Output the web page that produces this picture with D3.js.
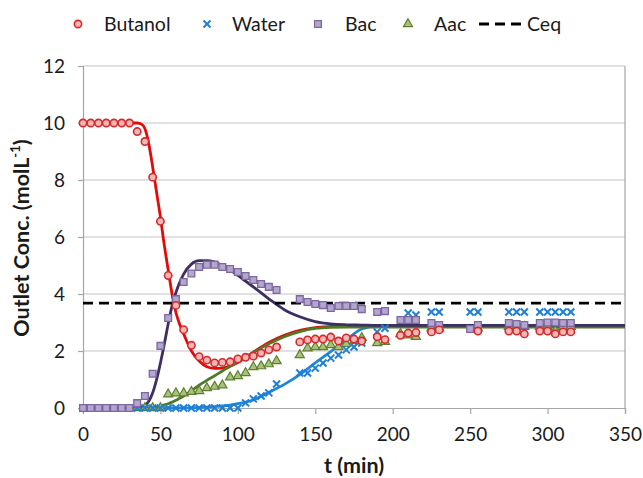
<!DOCTYPE html>
<html>
<head>
<meta charset="utf-8">
<script src="https://cdn.jsdelivr.net/npm/d3@7"></script>
<style>
  html, body { margin: 0; padding: 0; background: #fff; }
  svg { display: block; }
  text { font-family: Lato, "Open Sans", sans-serif; fill: #1a1a1a; }
</style>
</head>
<body>
<svg id="chart" width="643" height="478"></svg>
<script>
// Measured outlet concentrations (mol/L) against time (min)
const butanolTime = [0,5,10,15,20,25,30,35,40,45,50,55,60,65,70,75,80,85,90,95,100,105,110,115,120,125,140,145,150,155,160,165,170,175,180,190,195,205,210,215,225,230,255,275,280,285,295,300,305,310,315];
const butanolConc = [10,10,10,10,10,10,10,9.7,9.35,8.1,6.55,4.65,3.6,2.75,2.2,1.8,1.68,1.58,1.6,1.62,1.72,1.78,1.82,1.93,2.04,2.14,2.32,2.39,2.42,2.42,2.49,2.35,2.46,2.42,2.35,2.5,2.4,2.55,2.63,2.65,2.67,2.74,2.7,2.7,2.7,2.6,2.7,2.7,2.6,2.67,2.67];

const waterTime = [35,40,45,50,55,60,65,70,75,80,85,90,95,100,105,110,115,120,125,140,145,150,155,160,165,170,175,180,190,195,210,215,225,230,250,255,275,280,285,295,300,305,310,315];
const waterConc = [0,0,0,0,0,0,0,0,0,0,0,0,0,0,0.18,0.32,0.42,0.53,0.84,1.23,1.23,1.4,1.58,1.75,1.86,2.04,2.14,2.28,2.67,2.8,3.33,3.26,3.37,3.37,3.37,3.37,3.37,3.37,3.37,3.37,3.37,3.37,3.37,3.37];

const bacTime = [0,5,10,15,20,25,30,35,40,45,50,55,60,65,70,75,80,85,90,95,100,105,110,115,120,125,140,145,150,155,160,165,170,175,180,190,195,205,210,215,225,230,250,255,275,280,285,295,300,305,310,315];
const bacConc = [0,0,0,0,0,0,0,0.17,0.42,1.2,2.18,3.16,3.82,4.42,4.72,4.95,5.03,5.03,4.95,4.88,4.77,4.63,4.49,4.35,4.25,4.14,3.82,3.72,3.65,3.61,3.51,3.58,3.58,3.58,3.47,3.37,3.4,3.09,3.09,3.09,2.98,2.91,2.77,2.91,2.98,2.95,2.91,2.98,3.0,3.0,2.98,2.98];

const aacTime = [35,40,45,50,55,60,65,70,75,80,85,90,95,100,105,110,115,120,125,140,145,150,155,160,165,170,175,180,190,195,205,210,215,225,230,255,275,280,285,295,300,305,310,315];
const aacConc = [0,0,0,0,0.48,0.52,0.52,0.57,0.6,0.7,0.75,0.8,1.08,1.12,1.23,1.44,1.47,1.54,1.65,1.86,2.1,2.14,2.14,2.21,2.14,2.25,2.35,2.46,2.28,2.32,2.6,2.55,2.5,2.8,2.8,2.8,2.85,2.85,2.85,2.85,2.85,2.7,2.85,2.85];

// Model predictions
const fitTime = [0,30,35,38,40,42,44,46,48,50,52,55,58,60,62,65,70,75,80,85,90,95,100,110,120,130,140,150,160,170,180,190,200,350];
const butanolFit = [10,10,10,9.95,9.8,9.4,8.8,8.1,7.4,6.7,5.9,4.85,3.85,3.35,3.0,2.6,2.0,1.65,1.45,1.39,1.4,1.47,1.6,1.96,2.3,2.55,2.72,2.82,2.86,2.88,2.87,2.87,2.87,2.87];
const bacFit     = [0,0,0,0.02,0.08,0.2,0.4,0.7,1.1,1.58,2.1,2.95,3.7,4.05,4.35,4.7,5.05,5.17,5.17,5.12,5.0,4.85,4.65,4.25,3.83,3.45,3.2,3.03,2.95,2.92,2.91,2.9,2.9,2.9];
const aacFit     = [0,0,0,0,0,0,0.01,0.02,0.04,0.07,0.1,0.15,0.22,0.27,0.33,0.42,0.6,0.8,0.97,1.13,1.3,1.46,1.62,1.95,2.25,2.5,2.68,2.79,2.83,2.84,2.84,2.84,2.84,2.84];
const waterFit   = [0,0,0,0,0,0,0,0,0,0,0,0,0,0,0,0.005,0.01,0.02,0.03,0.05,0.07,0.1,0.15,0.28,0.55,0.83,1.17,1.58,1.98,2.39,2.77,2.87,2.87,2.87];

// Equilibrium concentration
const ceq = 3.68;

const xTicks = [0,50,100,150,200,250,300,350];
const yTicks = [0,2,4,6,8,10,12];

const svg = d3.select("#chart");
const x = d3.scaleLinear().domain([0, 350]).range([83, 625]);
const y = d3.scaleLinear().domain([0, 12]).range([408, 66]);

const gridColor = "#c4c4c4";
const axisColor = "#a6a6a6";

// Horizontal gridlines
svg.append("g").selectAll("line").data(yTicks.filter(d => d > 0)).join("line")
  .attr("x1", x(0)).attr("x2", x(350))
  .attr("y1", d => y(d)).attr("y2", d => y(d))
  .attr("stroke", gridColor).attr("stroke-width", 1.2);

// Right border
svg.append("line")
  .attr("x1", x(350)).attr("x2", x(350)).attr("y1", y(12)).attr("y2", y(0))
  .attr("stroke", axisColor).attr("stroke-width", 1.2);

// Axes
const yAxis = d3.axisLeft(y).tickValues(yTicks).tickSize(5).tickPadding(13).tickFormat(d3.format("d"));
const xAxis = d3.axisBottom(x).tickValues(xTicks).tickSize(6).tickPadding(14).tickFormat(d3.format("d"));

const gy = svg.append("g").attr("transform", `translate(${x(0)},0)`).call(yAxis);
const gx = svg.append("g").attr("transform", `translate(0,${y(0)})`).call(xAxis);
[gx, gy].forEach(g => {
  g.select(".domain").attr("stroke", axisColor).attr("stroke-width", 1.2);
  g.selectAll(".tick line").attr("stroke", axisColor).attr("stroke-width", 1.2);
  g.selectAll(".tick text").attr("font-family", "Lato, sans-serif").attr("font-size", 19).attr("fill", "#1a1a1a");
});

// Model curves
const line = d3.line().x(d => x(d[0])).y(d => y(d[1])).curve(d3.curveMonotoneX);
const zipFit = (vals, from) => fitTime.map((t, i) => [t, vals[i]]).filter(d => d[0] >= from);

const curves = [
  { vals: butanolFit, color: "#e10b0b", from: 0 },
  { vals: waterFit,   color: "#1e88d8", from: 33 },
  { vals: aacFit,     color: "#4f7a26", from: 33 },
  { vals: bacFit,     color: "#3d2f63", from: 0 }
];
curves.forEach(c => {
  svg.append("path").datum(zipFit(c.vals, c.from))
    .attr("d", line).attr("fill", "none")
    .attr("stroke", c.color).attr("stroke-width", 2.8);
});

// Equilibrium line
svg.append("line")
  .attr("x1", x(0)).attr("x2", x(350)).attr("y1", y(ceq)).attr("y2", y(ceq))
  .attr("stroke", "#000").attr("stroke-width", 2.8).attr("stroke-dasharray", "10,6");

// Marker symbols
const sym = {
  circle: d3.symbol().type(d3.symbolCircle).size(42),
  square: d3.symbol().type(d3.symbolSquare).size(46),
  triangle: d3.symbol().type(d3.symbolTriangle).size(36),
  cross: d3.symbol().type(d3.symbolX).size(34)
};
const styles = {
  butanol: { s: sym.circle, fill: "#f3b6b6", stroke: "#d42a2a", sw: 1.6 },
  water:   { s: sym.cross, fill: "none", stroke: "#1f7fd6", sw: 2 },
  bac:     { s: sym.square, fill: "#b3a6cf", stroke: "#7d679f", sw: 1.3 },
  aac:     { s: sym.triangle, fill: "#a9c27a", stroke: "#5f7f30", sw: 1.2 }
};

function drawPoints(times, vals, st) {
  svg.append("g").selectAll("path").data(times.map((t, i) => [t, vals[i]])).join("path")
    .attr("transform", d => `translate(${x(d[0])},${y(d[1])})`)
    .attr("d", st.s())
    .attr("fill", st.fill).attr("stroke", st.stroke).attr("stroke-width", st.sw);
}
drawPoints(aacTime, aacConc, styles.aac);
drawPoints(waterTime, waterConc, styles.water);
drawPoints(bacTime, bacConc, styles.bac);
drawPoints(butanolTime, butanolConc, styles.butanol);

// Axis titles
svg.append("text")
  .attr("x", 354).attr("y", 473).attr("text-anchor", "middle")
  .attr("font-size", 21.5).attr("font-weight", "bold").text("t (min)");

const yt = svg.append("text")
  .attr("transform", "translate(29,238) rotate(-90)")
  .attr("text-anchor", "middle").attr("font-size", 21.5).attr("font-weight", "bold");
yt.append("tspan").text("Outlet Conc. (molL");
yt.append("tspan").attr("font-size", 13).attr("dy", -9).text("-1");
yt.append("tspan").attr("dy", 9).text(")");

// Legend
const legendItems = [
  { name: "Butanol", st: styles.butanol, mx: 78, tx: 104 },
  { name: "Water", st: styles.water, mx: 207, tx: 232 },
  { name: "Bac", st: styles.bac, mx: 318, tx: 345 },
  { name: "Aac", st: styles.aac, mx: 408, tx: 434 }
];
const lg = svg.append("g");
legendItems.forEach(it => {
  lg.append("path").attr("transform", `translate(${it.mx},24)`)
    .attr("d", it.st.s()).attr("fill", it.st.fill)
    .attr("stroke", it.st.stroke).attr("stroke-width", it.st.sw);
  lg.append("text").attr("x", it.tx).attr("y", 31).attr("font-size", 19.5).text(it.name);
});
lg.append("line").attr("x1", 479).attr("x2", 525).attr("y1", 24).attr("y2", 24)
  .attr("stroke", "#000").attr("stroke-width", 2.8).attr("stroke-dasharray", "10,6");
lg.append("text").attr("x", 527).attr("y", 31).attr("font-size", 19.5).text("Ceq");
</script>
</body>
</html>
